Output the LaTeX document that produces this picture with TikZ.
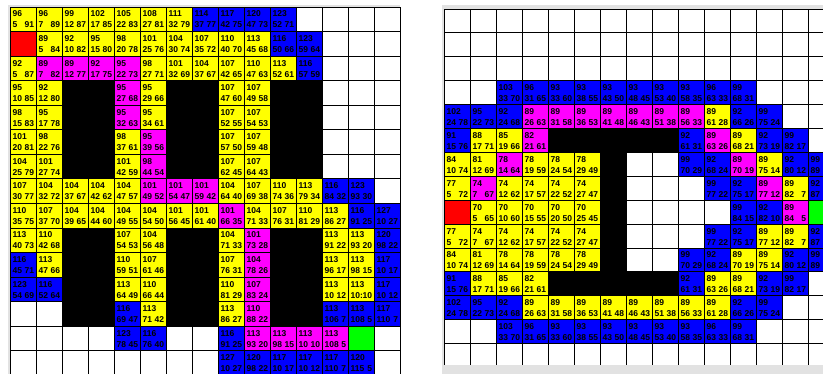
\documentclass[tikz,border=0pt]{standalone}
\usepackage{fontspec}
\setmainfont{Liberation Sans}
\usepackage{xcolor}
\definecolor{closed}{RGB}{255,255,0}
\definecolor{open}{RGB}{0,0,255}
\definecolor{route}{RGB}{255,0,255}
\definecolor{startcell}{RGB}{255,0,0}
\definecolor{goalcell}{RGB}{0,255,0}
\definecolor{framegray}{RGB}{226,226,226}

\begin{document}
\begin{tikzpicture}[
  cell/.style={draw=black, line width=0.8pt},
  num/.style={font=\fontsize{8.5}{9}\selectfont\bfseries, inner sep=0pt}]
  \clip (0pt,0pt) rectangle (823pt,-374pt);
  \fill[white] (0pt,0pt) rectangle (823pt,-374pt);
  % window frames
  \fill[framegray] (8pt,-5pt) rectangle (400pt,-374pt);
  \fill[framegray] (442pt,-5pt) rectangle (823pt,-374pt);
  % left search
  \begin{scope}[shift={(10pt,-7pt)}, x=26pt, y=-24.55pt]
    \foreach \c in {0,...,14} \foreach \r in {0,...,14}
      \draw[cell, fill=white] (\c,\r) rectangle ++(1,1);
    % walls
    \foreach \c in {2,3,6,7,10,11} \foreach \r in {3,4,5,6,9,10,11,12}
      \draw[cell, fill=black] (\c,\r) rectangle ++(1,1);
    % start and goal
    \draw[cell, fill=startcell] (0,1) rectangle ++(1,1);
    \draw[cell, fill=goalcell] (13,13) rectangle ++(1,1);
    % visited cells: f on top, g and h below
    \foreach \c/\r/\col/\f/\g/\h in {
      0/0/closed/96/5/91, 1/0/closed/96/7/89, 2/0/closed/99/12/87, 3/0/closed/102/17/85, 4/0/closed/105/22/83, 5/0/closed/108/27/81, 6/0/closed/111/32/79, 7/0/open/114/37/77, 8/0/open/117/42/75, 9/0/open/120/47/73, 10/0/open/123/52/71,
      1/1/closed/89/5/84, 2/1/closed/92/10/82, 3/1/closed/95/15/80, 4/1/closed/98/20/78, 5/1/closed/101/25/76, 6/1/closed/104/30/74, 7/1/closed/107/35/72, 8/1/closed/110/40/70, 9/1/closed/113/45/68, 10/1/open/116/50/66, 11/1/open/123/59/64,
      0/2/closed/92/5/87, 1/2/route/89/7/82, 2/2/route/89/12/77, 3/2/route/92/17/75, 4/2/route/95/22/73, 5/2/closed/98/27/71, 6/2/closed/101/32/69, 7/2/closed/104/37/67, 8/2/closed/107/42/65, 9/2/closed/110/47/63, 10/2/closed/113/52/61, 11/2/open/116/57/59,
      0/3/closed/95/10/85, 1/3/closed/92/12/80, 4/3/route/95/27/68, 5/3/closed/95/29/66, 8/3/closed/107/47/60, 9/3/closed/107/49/58,
      0/4/closed/98/15/83, 1/4/closed/95/17/78, 4/4/route/95/32/63, 5/4/closed/95/34/61, 8/4/closed/107/52/55, 9/4/closed/107/54/53,
      0/5/closed/101/20/81, 1/5/closed/98/22/76, 4/5/closed/98/37/61, 5/5/route/95/39/56, 8/5/closed/107/57/50, 9/5/closed/107/59/48,
      0/6/closed/104/25/79, 1/6/closed/101/27/74, 4/6/closed/101/42/59, 5/6/route/98/44/54, 8/6/closed/107/62/45, 9/6/closed/107/64/43,
      0/7/closed/107/30/77, 1/7/closed/104/32/72, 2/7/closed/104/37/67, 3/7/closed/104/42/62, 4/7/closed/104/47/57, 5/7/route/101/49/52, 6/7/route/101/54/47, 7/7/route/101/59/42, 8/7/closed/104/64/40, 9/7/closed/107/69/38, 10/7/closed/110/74/36, 11/7/closed/113/79/34, 12/7/open/116/84/32, 13/7/open/123/93/30,
      0/8/closed/110/35/75, 1/8/closed/107/37/70, 2/8/closed/104/39/65, 3/8/closed/104/44/60, 4/8/closed/104/49/55, 5/8/closed/104/54/50, 6/8/closed/101/56/45, 7/8/closed/101/61/40, 8/8/route/101/66/35, 9/8/closed/104/71/33, 10/8/closed/107/76/31, 11/8/closed/110/81/29, 12/8/closed/113/86/27, 13/8/open/116/91/25, 14/8/open/127/10/27,
      0/9/closed/113/40/73, 1/9/closed/110/42/68, 4/9/closed/107/54/53, 5/9/closed/104/56/48, 8/9/closed/104/71/33, 9/9/route/101/73/28, 12/9/closed/113/91/22, 13/9/closed/113/93/20, 14/9/open/120/98/22,
      0/10/open/116/45/71, 1/10/closed/113/47/66, 4/10/closed/110/59/51, 5/10/closed/107/61/46, 8/10/closed/107/76/31, 9/10/route/104/78/26, 12/10/closed/113/96/17, 13/10/closed/113/98/15, 14/10/open/117/10/17,
      0/11/open/123/54/69, 1/11/open/116/52/64, 4/11/closed/113/64/49, 5/11/closed/110/66/44, 8/11/closed/110/81/29, 9/11/route/107/83/24, 12/11/closed/113/10/12, 13/11/closed/113/10:/10, 14/11/open/117/10/12,
      4/12/open/116/69/47, 5/12/closed/113/71/42, 8/12/closed/113/86/27, 9/12/route/110/88/22, 12/12/open/113/106/7, 13/12/open/113/108/5, 14/12/open/117/110/7,
      4/13/open/123/78/45, 5/13/open/116/76/40, 8/13/open/116/91/25, 9/13/route/113/93/20, 10/13/route/113/98/15, 11/13/route/113/10/10, 12/13/route/113/108/5,
      8/14/open/127/10/27, 9/14/open/120/98/22, 10/14/open/117/10/17, 11/14/open/117/10/12, 12/14/open/117/110/7, 13/14/open/120/115/5} {
      \draw[cell, fill=\col] (\c,\r) rectangle ++(1,1);
      \node[num, anchor=base west, xshift=2.5pt, yshift=-10pt] (Lf-\c-\r) at (\c,\r) {\f};
      \node[num, anchor=base west, xshift=2.5pt, yshift=-21pt] (Lg-\c-\r) at (\c,\r) {\g};
      \node[num, anchor=base east, xshift=24.2pt, yshift=-21pt] (Lh-\c-\r) at (\c,\r) {\h};
    }
  \end{scope}
  % right search
  \begin{scope}[shift={(444pt,-9pt)}, x=26pt, y=-23.9pt]
    \foreach \c in {0,...,14} \foreach \r in {0,...,14}
      \draw[cell, fill=white] (\c,\r) rectangle ++(1,1);
    % walls
    \foreach \c in {4,...,8} \foreach \r in {5,11}
      \draw[cell, fill=black] (\c,\r) rectangle ++(1,1);
    \foreach \r in {6,...,10}
      \draw[cell, fill=black] (6,\r) rectangle ++(1,1);
    % start and goal
    \draw[cell, fill=startcell] (0,8) rectangle ++(1,1);
    \draw[cell, fill=goalcell] (14,8) rectangle ++(1,1);
    % visited cells: f on top, g and h below
    \foreach \c/\r/\col/\f/\g/\h in {
      2/3/open/103/33/70, 3/3/open/96/31/65, 4/3/open/93/33/60, 5/3/open/93/38/55, 6/3/open/93/43/50, 7/3/open/93/48/45, 8/3/open/93/53/40, 9/3/open/93/58/35, 10/3/open/96/63/33, 11/3/open/99/68/31,
      0/4/open/102/24/78, 1/4/open/95/22/73, 2/4/open/92/24/68, 3/4/route/89/26/63, 4/4/route/89/31/58, 5/4/route/89/36/53, 6/4/route/89/41/48, 7/4/route/89/46/43, 8/4/route/89/51/38, 9/4/route/89/56/33, 10/4/closed/89/61/28, 11/4/open/92/66/26, 12/4/open/99/75/24,
      0/5/open/91/15/76, 1/5/closed/88/17/71, 2/5/closed/85/19/66, 3/5/route/82/21/61, 9/5/open/92/61/31, 10/5/route/89/63/26, 11/5/closed/89/68/21, 12/5/open/92/73/19, 13/5/open/99/82/17,
      0/6/closed/84/10/74, 1/6/closed/81/12/69, 2/6/route/78/14/64, 3/6/closed/78/19/59, 4/6/closed/78/24/54, 5/6/closed/78/29/49, 9/6/open/99/70/29, 10/6/open/92/68/24, 11/6/route/89/70/19, 12/6/closed/89/75/14, 13/6/open/92/80/12, 14/6/open/99/89/10,
      0/7/closed/77/5/72, 1/7/route/74/7/67, 2/7/closed/74/12/62, 3/7/closed/74/17/57, 4/7/closed/74/22/52, 5/7/closed/74/27/47, 10/7/open/99/77/22, 11/7/open/92/75/17, 12/7/route/89/77/12, 13/7/closed/89/82/7, 14/7/open/92/87/5,
      1/8/closed/70/5/65, 2/8/closed/70/10/60, 3/8/closed/70/15/55, 4/8/closed/70/20/50, 5/8/closed/70/25/45, 11/8/open/99/84/15, 12/8/open/92/82/10, 13/8/route/89/84/5,
      0/9/closed/77/5/72, 1/9/closed/74/7/67, 2/9/closed/74/12/62, 3/9/closed/74/17/57, 4/9/closed/74/22/52, 5/9/closed/74/27/47, 10/9/open/99/77/22, 11/9/open/92/75/17, 12/9/closed/89/77/12, 13/9/closed/89/82/7, 14/9/open/92/87/5,
      0/10/closed/84/10/74, 1/10/closed/81/12/69, 2/10/closed/78/14/64, 3/10/closed/78/19/59, 4/10/closed/78/24/54, 5/10/closed/78/29/49, 9/10/open/99/70/29, 10/10/open/92/68/24, 11/10/closed/89/70/19, 12/10/closed/89/75/14, 13/10/open/92/80/12, 14/10/open/99/89/10,
      0/11/open/91/15/76, 1/11/closed/88/17/71, 2/11/closed/85/19/66, 3/11/closed/82/21/61, 9/11/open/92/61/31, 10/11/closed/89/63/26, 11/11/closed/89/68/21, 12/11/open/92/73/19, 13/11/open/99/82/17,
      0/12/open/102/24/78, 1/12/open/95/22/73, 2/12/open/92/24/68, 3/12/closed/89/26/63, 4/12/closed/89/31/58, 5/12/closed/89/36/53, 6/12/closed/89/41/48, 7/12/closed/89/46/43, 8/12/closed/89/51/38, 9/12/closed/89/56/33, 10/12/closed/89/61/28, 11/12/open/92/66/26, 12/12/open/99/75/24,
      2/13/open/103/33/70, 3/13/open/96/31/65, 4/13/open/93/33/60, 5/13/open/93/38/55, 6/13/open/93/43/50, 7/13/open/93/48/45, 8/13/open/93/53/40, 9/13/open/93/58/35, 10/13/open/96/63/33, 11/13/open/99/68/31} {
      \draw[cell, fill=\col] (\c,\r) rectangle ++(1,1);
      \node[num, anchor=base west, xshift=2.5pt, yshift=-10pt] (Rf-\c-\r) at (\c,\r) {\f};
      \node[num, anchor=base west, xshift=2.5pt, yshift=-21pt] (Rg-\c-\r) at (\c,\r) {\g};
      \node[num, anchor=base east, xshift=24.2pt, yshift=-21pt] (Rh-\c-\r) at (\c,\r) {\h};
    }
  \end{scope}
  % bottom edge of the right window
  \fill[framegray] (442pt,-365.5pt) rectangle (823pt,-374pt);
\end{tikzpicture}
\end{document}
